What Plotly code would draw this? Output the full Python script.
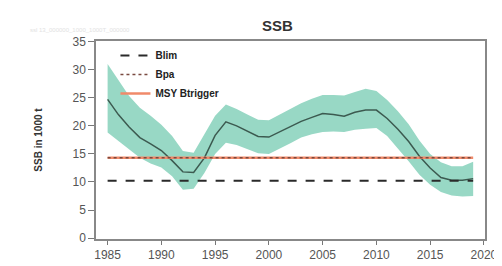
import plotly.graph_objects as go

years = list(range(1985, 2020))
ssb = [24.7, 22.0, 19.8, 17.9, 16.8, 15.6, 13.8, 11.8, 11.7, 14.3, 18.3, 20.7, 20.0, 19.0, 18.1, 18.0,
       18.9, 19.9, 20.8, 21.5, 22.2, 22.0, 21.7, 22.4, 22.8, 22.8, 21.3, 19.4, 17.2, 14.6, 12.5,
       10.8, 10.3, 10.3, 10.6]
upper = [31.0, 28.2, 25.3, 23.2, 21.8, 20.2, 18.2, 15.5, 15.2, 18.5, 21.8, 23.8, 23.0, 22.0, 21.1, 21.0,
         22.0, 23.0, 24.0, 24.8, 25.5, 25.5, 25.4, 26.0, 26.6, 26.2, 24.6, 22.6, 20.3, 17.4, 15.0,
         13.5, 12.8, 12.8, 13.6]
lower = [18.8, 17.3, 15.8, 14.3, 13.3, 12.6, 11.0, 8.6, 8.8, 11.6, 15.0, 17.0, 16.6, 15.8, 15.1, 15.0,
         15.9, 16.9, 17.9, 18.5, 18.9, 19.0, 18.9, 19.3, 19.5, 19.6, 18.2, 16.0, 13.7, 11.3, 9.5,
         8.2, 7.6, 7.4, 7.5]
blim = 10.2
bpa = 14.3
msy_btrigger = 14.3
x_ticks = [1985, 1990, 1995, 2000, 2005, 2010, 2015, 2020]
y_ticks = [0, 5, 10, 15, 20, 25, 30, 35]

band = "#98d8c5"
fig = go.Figure()
fig.add_trace(go.Scatter(x=years, y=upper, mode="lines", line=dict(width=0, color=band),
                         showlegend=False, hoverinfo="skip"))
fig.add_trace(go.Scatter(x=years, y=lower, mode="lines", line=dict(width=0, color=band),
                         fill="tonexty", fillcolor=band, showlegend=False, hoverinfo="skip"))
fig.add_trace(go.Scatter(x=years, y=ssb, mode="lines", line=dict(width=1.5, color="#3c5a50"),
                         showlegend=False))
fig.add_trace(go.Scatter(x=[years[0], years[-1]], y=[blim, blim], mode="lines",
                         line=dict(width=2, color="#2a2a2a", dash="dash"), name="<b>Blim</b>",
                         legendrank=1))
fig.add_trace(go.Scatter(x=[years[0], years[-1]], y=[msy_btrigger, msy_btrigger], mode="lines",
                         line=dict(width=2.5, color="#f08a6a"), name="<b>MSY Btrigger</b>",
                         legendrank=3))
fig.add_trace(go.Scatter(x=[years[0], years[-1]], y=[bpa, bpa], mode="lines",
                         line=dict(width=1.5, color="#7a4a40", dash="dot"), name="<b>Bpa</b>",
                         legendrank=2))

pw = 502 - 88 - 13
ph = 266 - 33 - 22

fig.update_layout(
    width=502, height=266,
    margin=dict(l=88, r=13, t=33, b=22),
    paper_bgcolor="white", plot_bgcolor="white",
    font=dict(family="Liberation Sans, Arial, sans-serif", size=11, color="#555"),
    showlegend=True,
    legend=dict(x=0.05, y=1.0, xanchor="left", yanchor="top", bgcolor="rgba(0,0,0,0)",
                font=dict(size=10, color="#222"), tracegroupgap=0, traceorder="normal"),
    xaxis=dict(range=[1983.92, 2020.1], tickvals=x_ticks, ticks="outside", ticklen=4,
               tickcolor="#777", showline=True, linecolor="#888", linewidth=1.5, mirror=True,
               showgrid=False, zeroline=False, tickfont=dict(size=12, color="#555")),
    yaxis=dict(range=[-0.15, 35.1], tickvals=y_ticks, ticks="outside", ticklen=6,
               tickcolor="#777", showline=True, linecolor="#888", linewidth=1.5, mirror=True,
               showgrid=False, zeroline=False, tickfont=dict(size=12, color="#555"),
               title=dict(text="<b>SSB in 1000 t</b>", font=dict(size=10, color="#333"), standoff=28)),
    annotations=[
        dict(text="<b>SSB</b>", x=0.466, xref="paper", y=(266 - 22 - 17) / ph, yref="paper",
             yanchor="middle", showarrow=False, font=dict(size=15, color="#333")),
        dict(text="ssl 13_000000_1000_1000T_000000", x=(18 - 88) / pw, y=(266 - 22 - 16) / ph,
             xref="paper", yref="paper", showarrow=False, font=dict(size=6, color="#e2e2e2"),
             xanchor="left"),
    ],
)

fig.write_html("out.html")
